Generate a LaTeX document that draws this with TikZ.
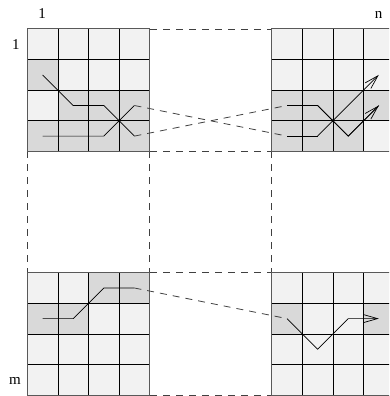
\documentclass[tikz,border=0pt]{standalone}
\usepackage{fontspec}
\setmainfont{Liberation Serif}
\usetikzlibrary{arrows.meta}
\definecolor{lightcell}{HTML}{F2F2F2}
\definecolor{darkcell}{HTML}{D9D9D9}
\tikzset{
  gridline/.style={black,line width=0.7pt},
  gridborder/.style={black!65,line width=1pt},
  dashlink/.style={black!75,line width=0.8pt,dash pattern=on 7pt off 6pt},
  route/.style={black,line width=0.7pt,line join=miter},
  routearrow/.style={route,-{Straight Barb[length=14pt,width=8pt]}},
  lbl/.style={font=\fontsize{15}{15}\selectfont,inner sep=0pt}
}
\newcommand{\cs}{30.6}
% \mkgrid{x0}{y0}{list of col/row dark cells}
\newcommand{\mkgrid}[3]{%
  \fill[lightcell] (#1,#2) rectangle ++(4*\cs,4*\cs);
  \foreach \cc/\rr in {#3} {
    \fill[darkcell] ({#1+(\cc-1)*\cs},{#2+(\rr-1)*\cs}) rectangle ++(\cs,\cs);
  }
  \foreach \k in {1,2,3} {
    \draw[gridline] ({#1+\k*\cs},#2) -- ++(0,4*\cs);
    \draw[gridline] (#1,{#2+\k*\cs}) -- ++(4*\cs,0);
  }
  \draw[gridborder] (#1,#2) rectangle ++(4*\cs,4*\cs);
}
\begin{document}
\begin{tikzpicture}[x=1pt,y=-1pt]
\useasboundingbox (0,0) rectangle (389,396);
\begin{scope}
\clip (0,0) rectangle (389,396);
% dashed frame lines
\draw[dashlink] (150,29) -- (271.7,29);
\draw[dashlink] (150,151.4) -- (271.7,151.4);
\draw[dashlink] (150,272.7) -- (271.7,272.7);
\draw[dashlink] (150,395.1) -- (271.7,395.1);
\draw[dashlink] (27.3,151.4) -- (27.3,272.7);
\draw[dashlink] (149.7,151.4) -- (149.7,272.7);
\draw[dashlink] (271.7,151.4) -- (271.7,272.7);
% grids
\mkgrid{27.3}{29}{1/2,2/3,3/3,4/3,1/4,2/4,3/4,4/4}
\mkgrid{271.7}{29}{1/3,2/3,3/3,4/3,1/4,2/4,3/4}
\mkgrid{27.3}{272.7}{3/1,4/1,1/2,2/2}
\mkgrid{271.7}{272.7}{1/2,4/2}
% coordinates
\coordinate (a1) at (42.6,74.9);
\coordinate (a2) at (73.2,105.5);
\coordinate (a3) at (103.8,105.5);
\coordinate (a4) at (134.4,136.1);
\coordinate (b1) at (42.6,136.1);
\coordinate (b2) at (103.8,136.1);
\coordinate (b3) at (134.4,105.5);
\coordinate (c1) at (287,105.5);
\coordinate (c2) at (317.6,105.5);
\coordinate (c3) at (348.2,136.1);
\coordinate (c4) at (378.8,105.5);
\coordinate (d1) at (287,136.1);
\coordinate (d2) at (317.6,136.1);
\coordinate (d3) at (378.8,74.9);
\coordinate (e1) at (42.6,318.6);
\coordinate (e2) at (73.2,318.6);
\coordinate (e3) at (103.8,288);
\coordinate (e4) at (134.4,288);
\coordinate (f1) at (287,318.6);
\coordinate (f2) at (317.6,349.2);
\coordinate (f3) at (348.2,318.6);
\coordinate (f4) at (378.8,318.6);
\coordinate (x1) at (119.1,120.8);
\coordinate (x2) at (332.9,120.8);
% routes
\draw[route] (a1) -- (a2) -- (a3) -- (a4);
\draw[route] (b1) -- (b2) -- (b3);
\draw[dashlink] (b3) -- (d1);
\draw[dashlink] (a4) -- (c1);
\draw[route] (c1) -- (c2) -- (c3) -- (c4);
\draw[routearrow] (c2) -- (c3) -- (c4);
\draw[route] (d1) -- (d2);
\draw[routearrow] (d2) -- (d3);
\fill (x1) circle (1.6);
\fill (x2) circle (1.6);
\draw[route] (e1) -- (e2) -- (e3) -- (e4);
\draw[dashlink] (e4) -- (f1);
\draw[routearrow] (f1) -- (f2) -- (f3) -- (f4);
\end{scope}
% labels
\node[lbl] (t1) at (42,13.5) {1};
\node[lbl] (tn) at (378.5,15) {n};
\node[lbl] (l1) at (16,44.5) {1};
\node[lbl] (lm) at (15,381) {m};
\end{tikzpicture}
\end{document}
